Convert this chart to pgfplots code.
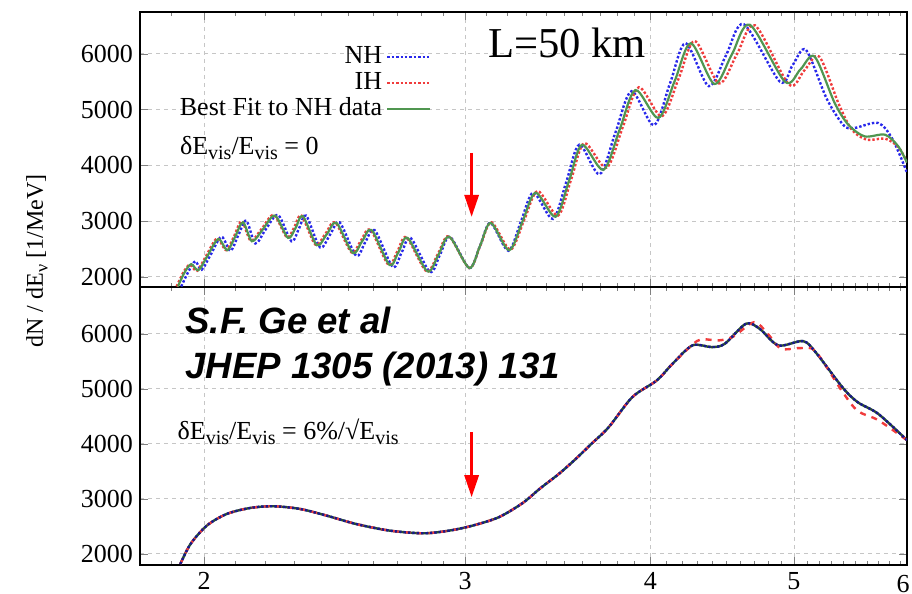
\documentclass[border=0pt]{standalone}
\usepackage{fontspec}
\setmainfont{Liberation Serif}
\newfontfamily\citefont{Liberation Sans}
\usepackage{pgfplots}
\pgfplotsset{compat=1.18}
\usetikzlibrary{arrows.meta}
\definecolor{nhblue}{RGB}{40,40,235}
\definecolor{ihred}{RGB}{240,60,60}
\definecolor{fitgreen}{RGB}{80,150,80}
\newcommand{\vis}{\raisebox{-0.45ex}{\fontsize{10}{10}\selectfont vis}}
\begin{document}
\begin{tikzpicture}
\path[use as bounding box] (-70pt,-14.5pt) rectangle (386pt,282.5pt);
% bottom panel
\begin{axis}[name=bot, scale only axis, width=383.5pt, height=139pt, at={(0,0)}, anchor=south west,
  xmode=log, xmin=1.81, xmax=5.96, ymin=1800, ymax=6850,
  xtick={2,3,4,5}, xticklabels={2,3,4,5},
  minor xtick={1.9,2.1,2.2,2.3,2.4,2.5,2.6,2.7,2.8,2.9,3.1,3.2,3.3,3.4,3.5,3.6,3.7,3.8,3.9,4.1,4.2,4.3,4.4,4.5,4.6,4.7,4.8,4.9,5.1,5.2,5.3,5.4,5.5,5.6,5.7,5.8,5.9},
  ytick={2000,3000,4000,5000,6000}, yticklabels={2000,3000,4000,5000,6000},
  tick align=inside, xtick pos=both, ytick pos=both, xticklabel pos=lower, yticklabel pos=left,
  major tick length=4pt, minor tick length=2pt,
  xmajorgrids, ymajorgrids, grid style={gray!45, dash pattern=on 2pt off 2pt, line width=0.5pt},
  tick label style={font=\fontsize{13}{13}\selectfont},
  axis line style={line width=0.9pt}]
\addplot[color=fitgreen!55!black, line width=1.2pt, smooth] coordinates {(1.927,1818)(1.958,2182)(2.008,2516)(2.071,2727)(2.148,2836)(2.227,2867)(2.321,2818)(2.418,2698)(2.532,2545)(2.667,2425)(2.811,2376)(2.927,2425)(3.035,2516)(3.160,2667)(3.280,2925)(3.370,3190)(3.470,3455)(3.560,3720)(3.650,4000)(3.750,4304)(3.890,4849)(4.040,5153)(4.140,5455)(4.270,5789)(4.400,5758)(4.490,5818)(4.640,6182)(4.740,6091)(4.880,5789)(5.070,5867)(5.170,5667)(5.390,5030)(5.520,4758)(5.700,4545)(5.960,4067)};
\addplot[color=ihred, dashed, line width=1.2pt, smooth] coordinates {(1.927,1818)(1.958,2182)(2.008,2516)(2.071,2727)(2.148,2836)(2.227,2867)(2.321,2818)(2.418,2698)(2.532,2545)(2.667,2425)(2.811,2376)(2.927,2425)(3.035,2516)(3.160,2667)(3.280,2925)(3.370,3190)(3.470,3455)(3.560,3720)(3.650,4000)(3.750,4304)(3.890,4849)(4.040,5153)(4.140,5455)(4.270,5800)(4.330,5900)(4.450,5880)(4.550,5950)(4.700,6210)(4.800,6000)(4.900,5730)(5.050,5740)(5.170,5680)(5.390,4950)(5.520,4600)(5.700,4430)(5.960,4067)};
\addplot[color=nhblue!60!black, densely dotted, line width=1.2pt, smooth] coordinates {(1.927,1818)(1.958,2182)(2.008,2516)(2.071,2727)(2.148,2836)(2.227,2867)(2.321,2818)(2.418,2698)(2.532,2545)(2.667,2425)(2.811,2376)(2.927,2425)(3.035,2516)(3.160,2667)(3.280,2925)(3.370,3190)(3.470,3455)(3.560,3720)(3.650,4000)(3.750,4304)(3.890,4849)(4.040,5153)(4.140,5455)(4.270,5789)(4.400,5758)(4.490,5818)(4.640,6182)(4.740,6091)(4.880,5789)(5.070,5867)(5.170,5667)(5.390,5030)(5.520,4758)(5.700,4545)(5.960,4067)};
\draw[red, line width=1.5pt, -{Triangle[length=11pt,width=7pt]}] (axis cs:3.03,4213) -- (axis cs:3.03,3031);
\node[anchor=west, font=\citefont\bfseries\itshape\fontsize{18.3}{20}\selectfont] at (rel axis cs:0.050,0.881) {S.F. Ge et al};
\node[anchor=west, font=\citefont\bfseries\itshape\fontsize{18.3}{20}\selectfont] at (rel axis cs:0.050,0.705) {JHEP 1305 (2013) 131};
\node[anchor=west, font=\fontsize{13}{13}\selectfont] at (rel axis cs:0.040,0.478) {δE\vis/E\vis\ = 6\%/√E\vis};
\end{axis}
\node[anchor=north east, font=\fontsize{13}{13}\selectfont, inner sep=0pt] at ([xshift=1.5pt,yshift=-5pt]bot.south east) {6};
% top panel
\begin{axis}[scale only axis, width=383.5pt, height=137.5pt, at={(0,139pt)}, anchor=south west,
  xmode=log, xmin=1.81, xmax=5.96, ymin=1820, ymax=6750,
  xtick={2,3,4,5}, xticklabels={},
  minor xtick={1.9,2.1,2.2,2.3,2.4,2.5,2.6,2.7,2.8,2.9,3.1,3.2,3.3,3.4,3.5,3.6,3.7,3.8,3.9,4.1,4.2,4.3,4.4,4.5,4.6,4.7,4.8,4.9,5.1,5.2,5.3,5.4,5.5,5.6,5.7,5.8,5.9},
  ytick={2000,3000,4000,5000,6000}, yticklabels={2000,3000,4000,5000,6000},
  tick align=inside, xtick pos=both, ytick pos=both, yticklabel pos=left,
  major tick length=4pt, minor tick length=2pt,
  xmajorgrids, ymajorgrids, grid style={gray!45, dash pattern=on 2pt off 2pt, line width=0.5pt},
  tick label style={font=\fontsize{13}{13}\selectfont},
  axis line style={line width=0.9pt},
  legend style={draw=none, fill=none, at={(rel axis cs:0.388,0.91)}, anchor=north east, font=\fontsize{13}{13}\selectfont, row sep=-3pt, nodes={text height=9.3pt, text depth=2.7pt}},
  legend plot pos=right, legend cell align=right,
  legend image code/.code={\draw[#1, sharp plot] (0cm,0cm) -- (0.75cm,0cm);}]
\addplot[color=nhblue, densely dotted, line width=1.2pt, smooth] coordinates {(1.930,1830)(1.950,2080)(1.972,2280)(1.992,2130)(2.020,2400)(2.054,2720)(2.083,2470)(2.108,2740)(2.135,3010)(2.165,2600)(2.200,2850)(2.243,3110)(2.290,2640)(2.318,2880)(2.343,3100)(2.394,2530)(2.432,2760)(2.468,2980)(2.532,2380)(2.568,2620)(2.606,2840)(2.680,2180)(2.718,2440)(2.756,2700)(2.840,2090)(2.885,2400)(2.930,2720)(3.019,2160)(3.070,2560)(3.120,2970)(3.208,2470)(3.272,3000)(3.335,3510)(3.438,3040)(3.510,3700)(3.582,4370)(3.697,3840)(3.790,4600)(3.885,5330)(4.022,4720)(4.125,5480)(4.225,6190)(4.380,5420)(4.500,5980)(4.625,6530)(4.892,5500)(4.990,5800)(5.094,6070)(5.260,5200)(5.400,4720)(5.490,4670)(5.700,4760)(5.830,4460)(5.960,3870)};
\addlegendentry{NH}
\addplot[color=ihred, densely dotted, line width=1.2pt, smooth] coordinates {(1.916,1830)(1.936,2080)(1.956,2220)(1.978,2110)(2.006,2380)(2.040,2690)(2.069,2480)(2.094,2720)(2.120,3000)(2.150,2650)(2.186,2860)(2.228,3110)(2.274,2710)(2.300,2890)(2.326,3100)(2.377,2580)(2.415,2780)(2.451,2980)(2.514,2440)(2.551,2650)(2.589,2850)(2.662,2220)(2.700,2460)(2.738,2710)(2.825,2100)(2.875,2410)(2.925,2730)(3.019,2160)(3.072,2570)(3.125,2980)(3.218,2490)(3.288,3020)(3.357,3540)(3.465,3100)(3.537,3750)(3.610,4400)(3.737,3960)(3.833,4690)(3.929,5400)(4.072,4880)(4.180,5560)(4.286,6230)(4.450,5470)(4.575,5990)(4.706,6510)(4.960,5450)(5.080,5700)(5.200,5950)(5.360,5100)(5.470,4640)(5.600,4460)(5.760,4480)(5.880,4330)(5.960,4060)};
\addlegendentry{IH}
\addplot[color=fitgreen, line width=1.1pt, smooth] coordinates {(1.920,1830)(1.940,2080)(1.960,2230)(1.982,2120)(2.010,2380)(2.044,2680)(2.073,2480)(2.098,2720)(2.124,2980)(2.154,2640)(2.190,2850)(2.232,3100)(2.278,2700)(2.305,2880)(2.331,3090)(2.382,2570)(2.420,2770)(2.456,2970)(2.519,2430)(2.556,2640)(2.594,2840)(2.667,2215)(2.705,2450)(2.743,2700)(2.829,2100)(2.878,2400)(2.927,2720)(3.019,2160)(3.070,2560)(3.122,2970)(3.212,2480)(3.280,3000)(3.347,3510)(3.452,3080)(3.525,3720)(3.597,4370)(3.719,3920)(3.814,4640)(3.909,5350)(4.050,4850)(4.155,5520)(4.260,6190)(4.418,5460)(4.540,5990)(4.669,6520)(4.930,5500)(5.050,5720)(5.163,5950)(5.326,5120)(5.440,4730)(5.580,4520)(5.760,4550)(5.880,4340)(5.960,4050)};
\addlegendentry{Best Fit to NH data}
\draw[red, line width=1.5pt, -{Triangle[length=11pt,width=7pt]}] (axis cs:3.03,4224) -- (axis cs:3.03,3076);
\node[anchor=west, font=\fontsize{21.3}{22}\selectfont] at (rel axis cs:0.445,0.887) {L=50 km};
\node[anchor=west, font=\fontsize{13}{13}\selectfont] at (rel axis cs:0.043,0.505) {δE\vis/E\vis\ = 0};
\end{axis}
\node[rotate=90, font=\fontsize{12}{12}\selectfont] at (-51.5pt,152pt) {dN / dE\raisebox{-0.45ex}{\fontsize{9}{9}\selectfont ν} [1/MeV]};
\end{tikzpicture}
\end{document}
